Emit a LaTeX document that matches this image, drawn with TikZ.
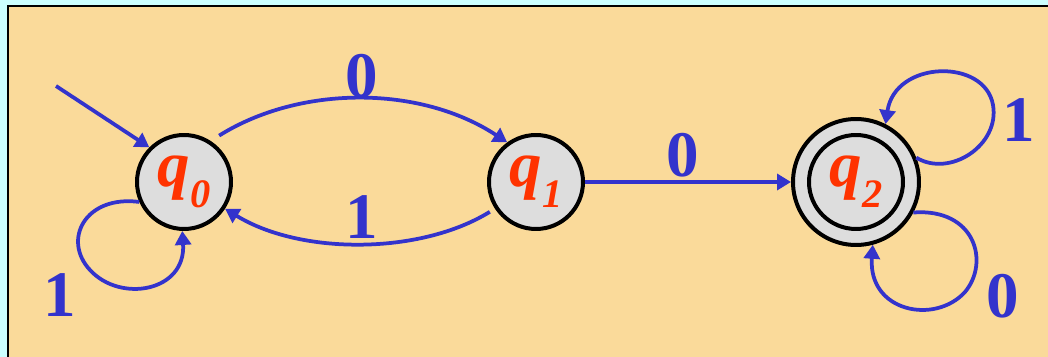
\documentclass[tikz,border=0pt]{standalone}
\usepackage{fontspec}
\setmainfont{Liberation Serif}
\usetikzlibrary{arrows.meta}

\definecolor{pagecyan}{HTML}{CCFFFF}
\definecolor{panelbg}{HTML}{FADA9A}
\definecolor{stategray}{HTML}{DDDDDD}
\definecolor{edgeblue}{HTML}{3333CC}
\definecolor{statered}{HTML}{FF3300}

% state name with a lowered subscript
\newcommand{\stname}[1]{q\raisebox{-0.32em}{\fontsize{23}{23}\selectfont #1}}

\begin{document}
\begin{tikzpicture}[x=0.02cm, y=-0.02cm]
\tikzstyle{state} = [circle, draw = black, line width = 0.08cm, fill = stategray, minimum size = 1.88cm, inner sep = 0pt, text = statered, font = \fontsize{37}{40}\selectfont\bfseries\itshape]
\tikzstyle{ring} = [circle, draw = black, line width = 0.08cm, fill = stategray, minimum size = 2.52cm, inner sep = 0pt]
\tikzstyle{edge} = [-{Triangle[length=0.28cm, width=0.32cm]}, line width = 0.075cm, draw = edgeblue]
\tikzstyle{symbol} = [text = edgeblue, font = \fontsize{37}{40}\selectfont\bfseries, inner sep = 0pt]
% -----------------------------------
% page and panel
\useasboundingbox (0, 0) rectangle (1048, 357);
\fill[pagecyan] (0, 0) rectangle (1048, 357);
\begin{scope}
\clip (0, 0) rectangle (1048, 357);
\draw[fill = panelbg, line width = 0.04cm] (8, 6) rectangle (1070, 380);
\end{scope}

% -----------------------------------
% states
\node[state] (q0) at (184, 182) {\stname{0}};
\node[state] (q1) at (536, 182) {\stname{1}};
\node[ring] (q2ring) at (856, 182) {};
\node[state] (q2) at (856, 182) {\stname{2}};

\coordinate (start) at (56, 86);

% -----------------------------------
% transitions
\draw[edge] (start)--(q0.135);
\draw[edge, shorten <= 0.2cm] (q0.57) .. controls (300, 85) and (420, 85) .. (q1.126);
\draw[edge, shorten <= 0.12cm] (q1.213) .. controls (420, 255) and (300, 255) .. (q0.327);
\draw[edge] (q1)--(q2ring);

% loops
\draw[edge] (q0.204) .. controls (85, 195) and (62, 240) .. (90, 270)
  .. controls (120, 303) and (186, 292) .. (q0.-92);
\draw[edge] (q2ring.22) .. controls (950, 178) and (1000, 145) .. (993, 105)
  .. controls (985, 58) and (895, 60) .. (q2ring.63);
\draw[edge] (q2ring.-28) .. controls (975, 208) and (990, 262) .. (965, 292)
  .. controls (935, 325) and (868, 312) .. (q2ring.-75);

% -----------------------------------
% input symbols
\node[symbol] (a01) at (362, 76) {0};
\node[symbol] (a10) at (362, 217) {1};
\node[symbol] (a12) at (683, 155) {0};
\node[symbol] (a00) at (60, 295) {1};
\node[symbol] (a22a) at (1019, 120) {1};
\node[symbol] (a22b) at (1003, 296) {0};
% -----------------------------------
\end{tikzpicture}
\end{document}
